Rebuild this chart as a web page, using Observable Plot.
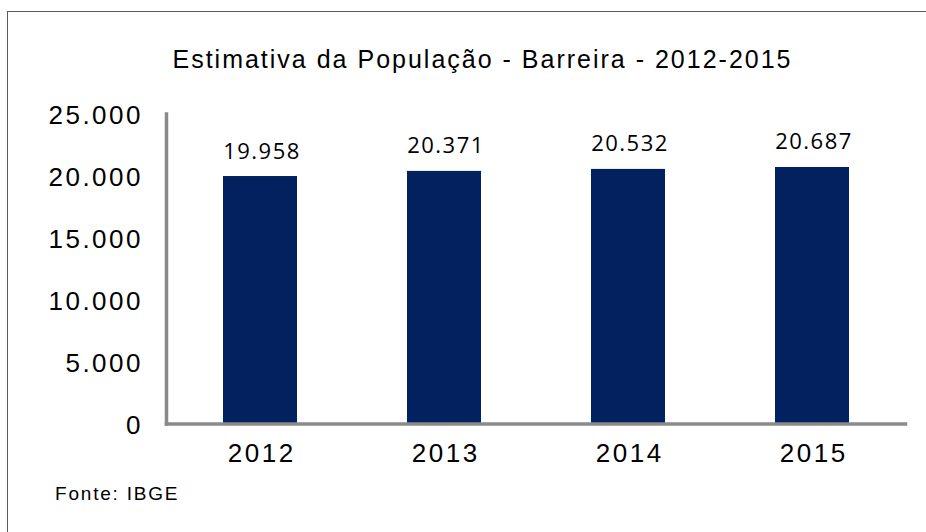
<!DOCTYPE html>
<html>
<head>
<meta charset="utf-8">
<script src="https://cdn.jsdelivr.net/npm/d3@7"></script>
<script src="https://cdn.jsdelivr.net/npm/@observablehq/plot@0.6"></script>
<style>
  html, body { margin: 0; padding: 0; background: #fff; overflow: hidden; }
  #wrap { position: relative; width: 926px; height: 532px; overflow: hidden; background: #fff; }
  #border { position: absolute; left: 7px; top: 11px; width: 1200px; height: 1200px;
            border-left: 1.5px solid #5a5a5a; border-top: 1.5px solid #5a5a5a; }
  #title { position: absolute; left: 0; width: 965px; top: 44px; text-align: center;
           font-family: "Liberation Sans", Arial, sans-serif; font-size: 25px; letter-spacing: 2px;
           color: #000; white-space: nowrap; line-height: 30px; }
  #caption { position: absolute; left: 55px; top: 483px;
             font-family: "Liberation Sans", Arial, sans-serif; font-size: 19px; letter-spacing: 1.8px;
             color: #000; white-space: nowrap; line-height: 22px; }
  #chart { position: absolute; left: 0; top: 0; }
</style>
</head>
<body>
<div id="wrap">
  <div id="border"></div>
  <div id="title">Estimativa da População - Barreira - 2012-2015</div>
  <div id="chart"></div>
  <div id="caption">Fonte: IBGE</div>
</div>
<script>
const years = ["2012", "2013", "2014", "2015"];
const population = [19958, 20371, 20532, 20687];
const yTicks = [0, 5000, 10000, 15000, 20000, 25000];

const data = years.map((year, i) => ({year, value: population[i]}));
const fmt = d => d3.format(",")(d).replace(/,/g, ".");

const chart = Plot.plot({
  width: 926,
  height: 532,
  marginLeft: 166,
  marginRight: 21,
  marginTop: 113.5,
  marginBottom: 108.5,
  style: {fontFamily: "'Liberation Sans', Arial, sans-serif", fontSize: "26px", color: "#000", background: "transparent", overflow: "visible"},
  x: {domain: years, paddingInner: 0.6, paddingOuter: 0.3, label: null},
  y: {domain: [0, 25000], label: null},
  marks: [
    Plot.barY(data, {x: "year", y: "value", fill: "#03215e"}),
    Plot.text(data, {x: "year", y: "value", text: d => fmt(d.value), dy: -18, dx: 1.5,
      lineAnchor: "bottom", textAnchor: "middle", fontFamily: "'Open Sans', sans-serif", fontSize: 22, fill: "#000"}),
    Plot.axisY({ticks: yTicks, tickFormat: fmt, tickSize: 0, tickPadding: 23.5, label: null, fontSize: 26, dy: 2}),
    Plot.axisX({tickSize: 0, tickPadding: 20, label: null, fontSize: 26, dx: 1.2}),
    Plot.frame({anchor: "left", stroke: "#8a8a8a", strokeWidth: 3.5}),
    Plot.frame({anchor: "bottom", stroke: "#8a8a8a", strokeWidth: 3.5})
  ]
});
document.getElementById("chart").appendChild(chart);
const svg = d3.select(chart);
svg.selectAll("g[aria-label='y-axis tick label'] text, g[aria-label='x-axis tick label'] text").style("letter-spacing", "2.5px");
svg.selectAll("g[aria-label='text'] text").style("letter-spacing", "1.5px");
</script>
</body>
</html>
